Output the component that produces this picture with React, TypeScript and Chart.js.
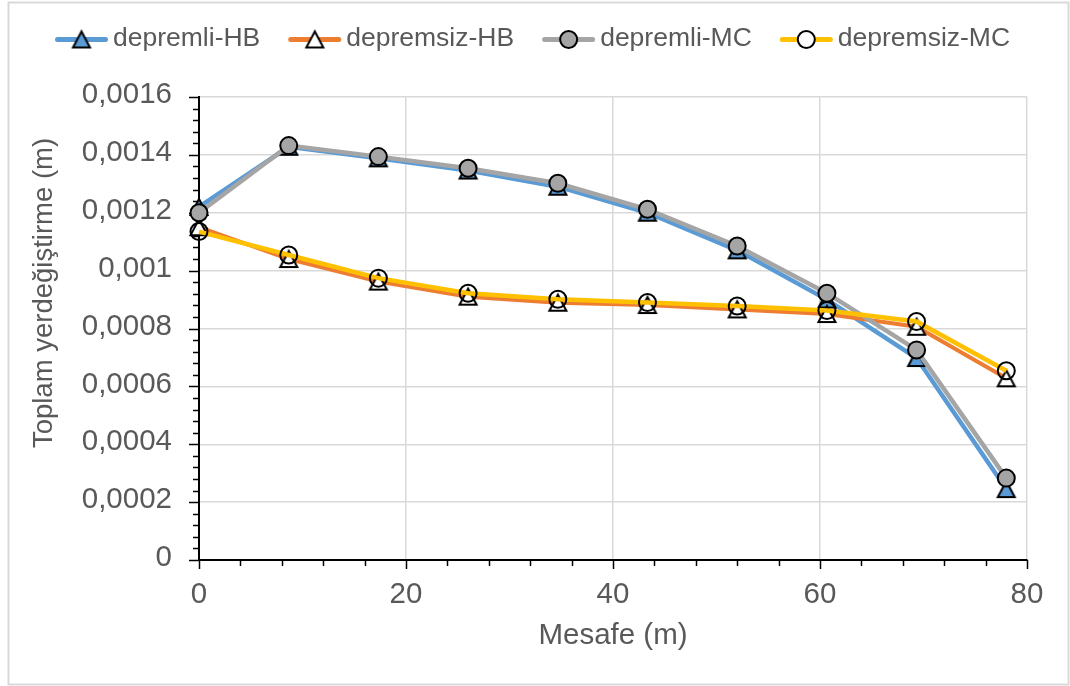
import React, { useEffect, useRef } from 'react';
import { Chart, registerables } from 'chart.js';

Chart.register(...registerables);

// ---- data ----
const mesafe = [0, 8.67, 17.33, 26, 34.67, 43.33, 52, 60.67, 69.33, 78];
const depremliHB = [0.00122, 0.001428, 0.001388, 0.001346, 0.00129, 0.0012, 0.00107, 0.0009, 0.000698, 0.000245];
const depremsizHB = [0.00115, 0.00104, 0.000962, 0.00091, 0.000889, 0.000881, 0.000866, 0.00085, 0.000806, 0.000628];
const depremliMC = [0.0012, 0.001432, 0.001394, 0.001354, 0.001302, 0.001212, 0.001085, 0.000922, 0.000726, 0.000283];
const depremsizMC = [0.001135, 0.001054, 0.000974, 0.000922, 0.000901, 0.00089, 0.000878, 0.000862, 0.000824, 0.000654];

const seriesNames = ['depremli-HB', 'depremsiz-HB', 'depremli-MC', 'depremsiz-MC'];
const xTickValues = [0, 20, 40, 60, 80];
const xTickLabels = ['0', '20', '40', '60', '80'];
const yTickValues = [0, 0.0002, 0.0004, 0.0006, 0.0008, 0.001, 0.0012, 0.0014, 0.0016];
const yTickLabels = ['0', '0,0002', '0,0004', '0,0006', '0,0008', '0,001', '0,0012', '0,0014', '0,0016'];
const xTitle = 'Mesafe (m)';
const yTitle = 'Toplam yerdeğiştirme (m)';

const FONT = '"Liberation Sans", Arial, sans-serif';
const TEXT = '#595959';
const BLUE = '#5B9BD5';
const ORANGE = '#ED7D31';
const GRAY = '#A5A5A5';
const YELLOW = '#FFC000';

function makeTriangle(fill: string): HTMLCanvasElement {
  const c = document.createElement('canvas');
  c.width = 22;
  c.height = 22;
  const g = c.getContext('2d')!;
  g.beginPath();
  g.moveTo(11, 3);
  g.lineTo(2.5, 19);
  g.lineTo(19.5, 19);
  g.closePath();
  g.fillStyle = fill;
  g.fill();
  g.lineWidth = 2;
  g.strokeStyle = '#000';
  g.lineJoin = 'miter';
  g.stroke();
  return c;
}

export default function App() {
  const ref = useRef<HTMLCanvasElement | null>(null);

  useEffect(() => {
    const canvas = ref.current;
    if (!canvas) return;
    const triBlue = makeTriangle(BLUE);
    const triWhite = makeTriangle('#FFFFFF');

    const toPts = (arr: number[]) => arr.map((v, i) => ({ x: mesafe[i], y: v }));

    const legendItems = [
      { name: seriesNames[0], color: BLUE, kind: 'tri', img: triBlue, fill: BLUE },
      { name: seriesNames[1], color: ORANGE, kind: 'tri', img: triWhite, fill: '#fff' },
      { name: seriesNames[2], color: GRAY, kind: 'circle', img: null, fill: GRAY },
      { name: seriesNames[3], color: YELLOW, kind: 'circle', img: null, fill: '#fff' },
    ];

    const decor = {
      id: 'decor',
      beforeDraw(chart: any) {
        const ctx = chart.ctx;
        ctx.save();
        ctx.fillStyle = '#fff';
        ctx.fillRect(0, 0, chart.width, chart.height);
        ctx.strokeStyle = '#d9d9d9';
        ctx.lineWidth = 2;
        ctx.strokeRect(8.5, 2.5, 1060, 682);
        ctx.restore();
      },
      beforeDatasetsDraw(chart: any) {
        const { ctx, chartArea } = chart;
        const x = chart.scales.x;
        const y = chart.scales.y;
        ctx.save();
        ctx.strokeStyle = '#000';
        ctx.lineWidth = 1.5;
        const xMinor = (xTickValues[1] - xTickValues[0]) / 5;
        const nx = Math.round((x.max - x.min) / xMinor);
        for (let i = 0; i <= nx; i++) {
          const px = Math.round(x.getPixelForValue(x.min + i * xMinor)) + 0.5;
          const len = i % 5 === 0 ? 9 : 6;
          ctx.beginPath();
          ctx.moveTo(px, chartArea.bottom);
          ctx.lineTo(px, chartArea.bottom + len);
          ctx.stroke();
        }
        const yMinor = (yTickValues[1] - yTickValues[0]) / 5;
        const ny = Math.round((y.max - y.min) / yMinor);
        for (let i = 0; i <= ny; i++) {
          const py = Math.round(y.getPixelForValue(y.min + i * yMinor)) + 0.5;
          const len = i % 5 === 0 ? 10 : 6;
          ctx.beginPath();
          ctx.moveTo(chartArea.left, py);
          ctx.lineTo(chartArea.left - len, py);
          ctx.stroke();
        }
        // y axis title
        ctx.translate(44, 293);
        ctx.rotate(-Math.PI / 2);
        ctx.font = `27.5px ${FONT}`;
        ctx.fillStyle = TEXT;
        ctx.textAlign = 'center';
        ctx.textBaseline = 'middle';
        ctx.fillText(yTitle, 0, 0);
        ctx.restore();
      },
      afterDraw(chart: any) {
        const ctx = chart.ctx;
        ctx.save();
        ctx.font = `26.5px ${FONT}`;
        ctx.textAlign = 'left';
        ctx.textBaseline = 'middle';
        let cx = 55;
        const ly = 39.5;
        for (const it of legendItems) {
          ctx.strokeStyle = it.color;
          ctx.lineWidth = 5;
          ctx.lineCap = 'round';
          ctx.beginPath();
          ctx.moveTo(cx + 2.5, ly);
          ctx.lineTo(cx + 50.5, ly);
          ctx.stroke();
          const mx = cx + 26.5;
          if (it.kind === 'tri' && it.img) {
            ctx.drawImage(it.img, mx - 11, ly - 11);
          } else {
            ctx.beginPath();
            ctx.arc(mx, ly, 8.5, 0, Math.PI * 2);
            ctx.fillStyle = it.fill;
            ctx.fill();
            ctx.lineWidth = 2;
            ctx.strokeStyle = '#000';
            ctx.stroke();
          }
          ctx.fillStyle = TEXT;
          ctx.fillText(it.name, cx + 58, 39);
          cx += 58 + ctx.measureText(it.name).width + 28;
        }
        ctx.restore();
      },
    };

    const chart = new Chart(canvas, {
      type: 'line',
      data: {
        datasets: [
          {
            label: seriesNames[0],
            data: toPts(depremliHB),
            borderColor: BLUE,
            borderWidth: 4.5,
            pointStyle: triBlue as any,
            pointRadius: 9,
            order: 4,
            clip: false as any,
          },
          {
            label: seriesNames[1],
            data: toPts(depremsizHB),
            borderColor: ORANGE,
            borderWidth: 4,
            pointStyle: triWhite as any,
            pointRadius: 9,
            order: 3,
            clip: false as any,
          },
          {
            label: seriesNames[2],
            data: toPts(depremliMC),
            borderColor: GRAY,
            borderWidth: 4.5,
            pointStyle: 'circle',
            pointRadius: 8.5,
            pointBorderWidth: 2,
            pointBorderColor: '#000',
            pointBackgroundColor: GRAY,
            order: 2,
            clip: false as any,
          },
          {
            label: seriesNames[3],
            data: toPts(depremsizMC),
            borderColor: YELLOW,
            borderWidth: 4.5,
            pointStyle: 'circle',
            pointRadius: 8.5,
            pointBorderWidth: 2,
            pointBorderColor: '#000',
            pointBackgroundColor: 'rgba(255,255,255,0)',
            order: 1,
            clip: false as any,
          },
        ],
      },
      options: {
        animation: false,
        responsive: false,
        devicePixelRatio: 1,
        layout: { padding: { left: 0, right: 43, top: 97, bottom: 0 } },
        plugins: {
          legend: { display: false },
          tooltip: { enabled: false },
        },
        elements: { line: { tension: 0 } },
        scales: {
          x: {
            type: 'linear',
            min: 0,
            max: 80,
            afterBuildTicks: (s: any) => {
              s.ticks = xTickValues.map((v) => ({ value: v }));
            },
            afterFit: (s: any) => {
              s.height = 126;
            },
            ticks: {
              font: { family: FONT, size: 29.5 },
              color: TEXT,
              padding: 17,
              maxRotation: 0,
              callback: (v: any) => xTickLabels[xTickValues.indexOf(Number(v))] ?? '',
            },
            grid: { color: '#d9d9d9', lineWidth: 1.5, drawTicks: false },
            border: { color: '#000', width: 2 },
            title: {
              display: true,
              text: xTitle,
              font: { family: FONT, size: 29.5 },
              color: TEXT,
              padding: { top: 0, bottom: 32 },
            },
          },
          y: {
            type: 'linear',
            min: 0,
            max: 0.0016,
            afterBuildTicks: (s: any) => {
              s.ticks = yTickValues.map((v) => ({ value: v }));
            },
            afterFit: (s: any) => {
              s.width = 199;
            },
            ticks: {
              font: { family: FONT, size: 29.5 },
              color: TEXT,
              padding: 27,
              labelOffset: -2,
              callback: (v: any) => {
                const i = yTickValues.findIndex((t) => Math.abs(t - Number(v)) < 1e-9);
                return i >= 0 ? yTickLabels[i] : '';
              },
            },
            grid: { color: '#d9d9d9', lineWidth: 1.5, drawTicks: false },
            border: { color: '#000', width: 2 },
          },
        },
      },
      plugins: [decor],
    });

    return () => {
      chart.destroy();
    };
  }, []);

  return (
    <div style={{ position: 'absolute', left: 0, top: 0, width: 1070, height: 686, background: '#fff' }}>
      <canvas ref={ref} width={1070} height={686} style={{ display: 'block' }} />
    </div>
  );
}
